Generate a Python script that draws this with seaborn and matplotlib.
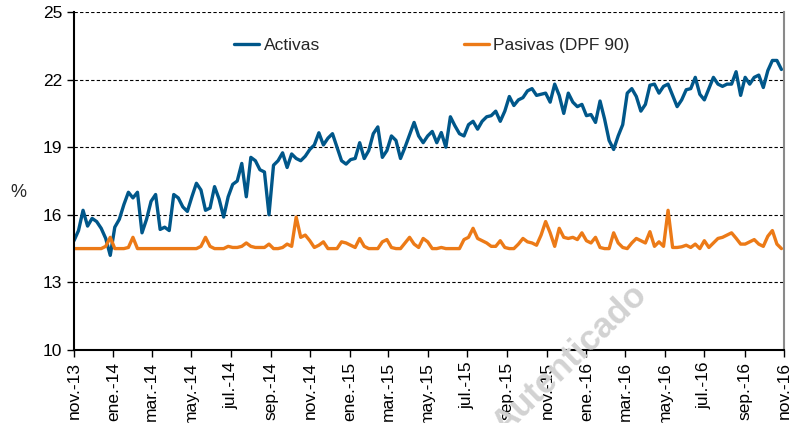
import matplotlib
matplotlib.use('Agg')
import matplotlib.pyplot as plt
import seaborn as sns
import pandas as pd

# Tasas semanales (%)
activas = [
    14.85, 15.3, 16.2, 15.5, 15.84, 15.7, 15.4, 14.95, 14.2, 15.45,
    15.8, 16.45, 17.0, 16.75, 17.0, 15.2, 15.8, 16.6, 16.9, 15.35,
    15.45, 15.3, 16.9, 16.75, 16.35, 16.15, 16.8, 17.4, 17.1, 16.2,
    16.3, 17.25, 16.7, 15.9, 16.8, 17.35, 17.5, 18.28, 16.8, 18.55,
    18.4, 18.0, 17.9, 16.0, 18.2, 18.4, 18.75, 18.1, 18.7, 18.5,
    18.4, 18.6, 18.9, 19.1, 19.64, 19.1, 19.4, 19.6, 19.0, 18.4,
    18.25, 18.45, 18.5, 19.2, 18.5, 18.85, 19.6, 19.9, 18.55, 18.85,
    19.5, 19.3, 18.5, 19.0, 19.55, 20.1, 19.5, 19.2, 19.5, 19.7,
    19.2, 19.65, 19.0, 20.35, 19.95, 19.6, 19.5, 20.0, 20.15, 19.8,
    20.15, 20.35, 20.4, 20.6, 20.15, 20.6, 21.25, 20.85, 21.1, 21.2,
    21.5, 21.6, 21.3, 21.35, 21.4, 21.0, 21.8, 21.3, 20.5, 21.4,
    21.0, 20.8, 20.9, 20.4, 20.45, 20.1, 21.05, 20.25, 19.3, 18.9,
    19.5, 20.0, 21.4, 21.6, 21.25, 20.6, 20.9, 21.75, 21.8, 21.4,
    21.7, 21.8, 21.3, 20.8, 21.1, 21.55, 21.6, 22.1, 21.35, 21.1,
    21.6, 22.1, 21.8, 21.7, 21.8, 21.8, 22.35, 21.3, 22.1, 21.8,
    22.1, 22.2, 21.65, 22.4, 22.85, 22.85, 22.45,
]
pasivas = [
    14.5, 14.5, 14.5, 14.5, 14.5, 14.5, 14.5, 14.6, 15.0, 14.5,
    14.5, 14.5, 14.55, 15.0, 14.5, 14.5, 14.5, 14.5, 14.5, 14.5,
    14.5, 14.5, 14.5, 14.5, 14.5, 14.5, 14.5, 14.5, 14.6, 15.0,
    14.6, 14.5, 14.5, 14.5, 14.6, 14.55, 14.55, 14.6, 14.75, 14.6,
    14.55, 14.55, 14.55, 14.7, 14.5, 14.5, 14.55, 14.7, 14.6, 15.9,
    15.0, 15.1, 14.85, 14.55, 14.65, 14.8, 14.5, 14.5, 14.5, 14.8,
    14.75, 14.65, 14.55, 14.95, 14.6, 14.5, 14.5, 14.5, 14.8, 14.9,
    14.55, 14.5, 14.5, 14.75, 15.0, 14.7, 14.55, 14.95, 14.8, 14.5,
    14.5, 14.55, 14.5, 14.5, 14.5, 14.5, 14.9, 15.0, 15.4, 14.95,
    14.85, 14.75, 14.6, 14.6, 14.85, 14.55, 14.5, 14.5, 14.7, 14.95,
    14.8, 14.75, 14.65, 15.1, 15.7, 15.2, 14.6, 15.4, 15.0, 14.95,
    15.0, 14.9, 15.2, 14.85, 14.75, 15.0, 14.55, 14.5, 14.5, 15.2,
    14.75, 14.55, 14.5, 14.75, 14.95, 14.85, 14.75, 15.25, 14.6, 14.8,
    14.6, 16.2, 14.55, 14.55, 14.58, 14.65, 14.55, 14.7, 14.5, 14.85,
    14.55, 14.75, 14.95, 15.0, 15.1, 15.2, 14.96, 14.7, 14.7, 14.8,
    14.9, 14.7, 14.6, 15.05, 15.3, 14.7, 14.5,
]

series = ['Activas', 'Pasivas (DPF 90)']
colores = ['#00578a', '#ec7a17']

etiquetas_x = [
    'nov.-13', 'ene.-14', 'mar.-14', 'may.-14', 'jul.-14', 'sep.-14',
    'nov.-14', 'ene.-15', 'mar.-15', 'may.-15', 'jul.-15', 'sep.-15',
    'nov.-15', 'ene.-16', 'mar.-16', 'may.-16', 'jul.-16', 'sep.-16',
    'nov.-16',
]
ticks_y = [10, 13, 16, 19, 22, 25]

fechas = pd.date_range('2013-11-01', periods=len(activas), freq='7D')
ticks_x = pd.date_range('2013-11-01', '2016-11-01', freq='2MS')

df = pd.DataFrame({'FECHA': fechas, series[0]: activas, series[1]: pasivas})
df_long = df.melt(id_vars='FECHA', var_name='SERIE', value_name='TASA')

sns.set_style('white')
plt.rcParams['font.family'] = ['Liberation Sans', 'DejaVu Sans']

fig = plt.figure(figsize=(7.98, 4.23), dpi=100)
ax = fig.add_axes([0.0927, 0.1726, 0.8898, 0.799])

sns.lineplot(
    data=df_long, x='FECHA', y='TASA', hue='SERIE',
    hue_order=series, palette=colores, linewidth=2.4, ax=ax
)
for linea in ax.get_lines():
    linea.set_solid_joinstyle('round')

ax.set_ylim(10, 25)
ax.set_yticks(ticks_y)
ax.set_xlim(pd.Timestamp('2013-11-01'), pd.Timestamp('2016-11-01'))
ax.set_xticks(ticks_x)
ax.set_xticklabels(etiquetas_x, rotation=90)

ax.yaxis.grid(True, linestyle=(0, (3, 2)), color='black', linewidth=0.8)
ax.xaxis.grid(False)
ax.set_axisbelow(True)

ax.spines['top'].set_visible(False)
ax.spines['left'].set_color('black')
ax.spines['left'].set_linewidth(1.5)
ax.spines['bottom'].set_color('black')
ax.spines['bottom'].set_linewidth(1.5)
ax.spines['right'].set_color('#8a8a8a')
ax.spines['right'].set_linewidth(1.5)

ax.tick_params(axis='both', direction='out', length=5, width=1,
               labelsize=12.5, colors='black', bottom=True, left=True)

ax.set_xlabel('')
ax.set_ylabel('%', rotation=0, fontsize=13)
ax.yaxis.set_label_coords(-0.079, 0.44)

ax.legend(
    loc='center', bbox_to_anchor=(0.504, 0.9), ncol=2, frameon=False,
    fontsize=12.5, handlelength=1.45, handletextpad=0.25, columnspacing=8.3
)

# marca de agua
fig.text(0.812, 0.298, 'Autenticado', rotation=44, rotation_mode='anchor',
         ha='right', va='baseline', fontsize=25, fontweight='bold',
         color='#d2d2d2', zorder=0)

fig.savefig('out.png', dpi=100)
plt.close()
